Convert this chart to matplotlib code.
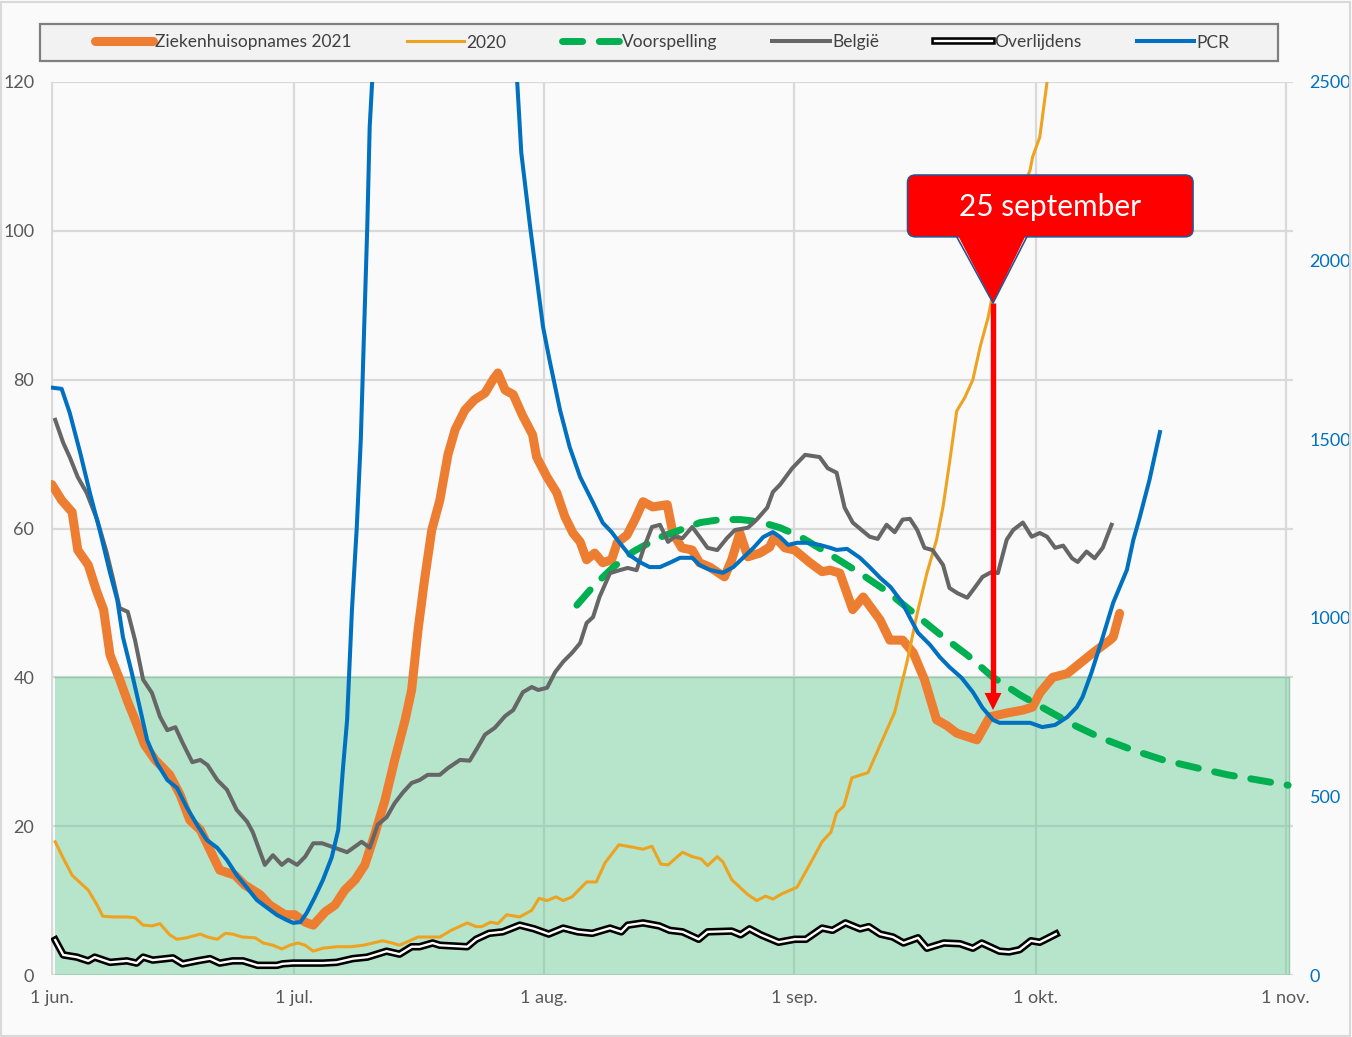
import matplotlib
matplotlib.use("Agg")
import matplotlib.pyplot as plt
from matplotlib.patches import FancyBboxPatch, Polygon, Rectangle
from matplotlib.legend_handler import HandlerTuple

plt.rcParams['font.family'] = ['Lato', 'DejaVu Sans']

# ---------------- data (x = days since 1 June 2021) ----------------
tick_days = [0, 30, 61, 92, 122, 153]
tick_labels = ["1 jun.", "1 jul.", "1 aug.", "1 sep.", "1 okt.", "1 nov."]

hosp_days = [0.0, 1.2, 2.5, 3.2, 4.5, 5.5, 6.4, 7.2, 8.4, 9.4, 10.3, 11.5, 12.8, 14.6, 15.9, 17.1, 18.4,
             19.6, 20.8, 22.7, 23.9, 25.8, 27.0, 28.9, 30.1, 31.4, 32.4, 33.9, 35.1, 36.3, 37.6, 38.8,
             40.0, 41.3, 42.5, 43.8, 44.6, 45.4, 46.2, 47.1, 48.1, 49.1, 50.0, 51.2, 52.4, 53.7, 54.7,
             55.3, 56.2, 57.2, 58.3, 59.6, 60.1, 61.4, 62.6, 63.6, 64.6, 65.5, 66.3, 67.3, 68.3, 69.4,
             70.1, 71.3, 72.3, 73.3, 74.5, 76.3, 77.0, 78.1, 79.4, 80.3, 81.6, 83.4, 84.3, 85.3, 86.3,
             87.8, 89.0, 89.6, 90.9, 92.1, 94.0, 95.5, 96.5, 97.7, 99.3, 100.6, 102.7, 103.9, 105.5,
             106.8, 108.2, 109.7, 111.0, 112.2, 114.7, 116.3, 118.4, 120.4, 121.6, 122.5, 124.1, 125.9,
             127.5, 129.1, 131.2, 131.6, 132.4]
hosp_2021 = [65.9, 63.8, 62.2, 57.1, 55.1, 51.7, 49.1, 43.0, 39.7, 36.7, 34.3, 30.9, 28.9, 26.9, 24.2,
             20.8, 19.5, 16.8, 14.1, 13.4, 12.1, 10.8, 9.4, 8.1, 8.1, 7.1, 6.7, 8.5, 9.4, 11.4, 12.8,
             14.8, 18.8, 23.5, 28.9, 34.3, 38.3, 46.4, 53.1, 59.8, 63.8, 69.9, 73.3, 75.9, 77.3, 78.2,
             80.0, 80.9, 78.6, 78.0, 75.3, 72.6, 69.6, 66.9, 64.8, 61.6, 59.4, 58.2, 55.8, 56.7, 55.4,
             55.8, 58.1, 59.1, 61.2, 63.6, 62.9, 63.2, 59.4, 57.4, 57.1, 55.4, 54.8, 53.5, 55.8, 59.4,
             56.2, 56.7, 57.5, 58.9, 57.4, 57.1, 55.4, 54.2, 54.4, 54.0, 49.1, 50.8, 47.7, 45.0, 45.0,
             43.3, 39.7, 34.3, 33.5, 32.5, 31.6, 34.7, 35.2, 35.6, 36.0, 37.9, 40.0, 40.5, 41.9, 43.3,
             45.0, 45.4, 48.6]

y2020_days = [0.4, 1.4, 2.5, 3.5, 4.5, 5.6, 6.3, 7.6, 9.3, 10.3, 11.3, 12.4, 13.4, 14.6, 15.5, 16.7,
              18.4, 19.3, 20.5, 21.5, 22.4, 23.6, 25.2, 26.2, 27.4, 28.5, 29.5, 30.5, 31.4, 32.4, 33.6,
              35.3, 37.0, 38.6, 41.0, 42.2, 43.1, 45.4, 47.2, 48.1, 49.5, 51.5, 52.6, 53.3, 54.4, 55.3,
              56.4, 58.0, 59.5, 60.4, 61.4, 62.5, 63.4, 64.5, 66.3, 67.5, 68.6, 70.3, 71.9, 73.3, 74.4,
              75.5, 76.4, 78.2, 79.4, 80.5, 81.3, 82.5, 83.2, 84.3, 86.3, 87.4, 88.5, 89.4, 90.5, 92.4,
              94.1, 95.5, 96.6, 97.3, 98.2, 99.2, 101.2, 102.7, 104.5, 106.0, 107.3, 108.5, 109.7, 110.5,
              111.3, 112.2, 113.2, 114.2, 115.1, 116.1, 116.7, 118.9, 120.0, 121.3, 121.6, 122.5, 122.9,
              123.4, 123.7]
y2020 = [17.9, 15.7, 13.4, 12.4, 11.4, 9.4, 7.9, 7.8, 7.8, 7.7, 6.7, 6.6, 6.9, 5.4, 4.8, 5.0, 5.5, 5.1,
         4.8, 5.6, 5.5, 5.1, 5.0, 4.3, 4.0, 3.5, 4.0, 4.3, 4.0, 3.2, 3.6, 3.8, 3.8, 4.0, 4.6, 4.3, 4.0,
         5.1, 5.1, 5.1, 6.0, 7.0, 6.5, 6.5, 7.1, 6.9, 8.1, 7.8, 8.7, 10.3, 10.0, 10.5, 10.0, 10.5, 12.5,
         12.5, 15.1, 17.5, 17.2, 16.9, 17.3, 14.9, 14.8, 16.5, 15.9, 15.6, 14.7, 15.9, 15.2, 12.8, 10.8,
         10.0, 10.6, 10.2, 10.9, 11.8, 15.1, 17.9, 19.2, 21.8, 22.7, 26.5, 27.2, 30.9, 35.3, 41.9, 48.6,
         54.0, 58.5, 62.9, 68.8, 75.8, 77.6, 80.0, 84.4, 88.4, 91.7, 100.0, 104.5, 108.2, 109.9, 112.6,
         115.9, 120.0, 124.0]

fc_days = [65.1, 67.1, 69.6, 72.1, 75.1, 77.9, 80.4, 82.9, 85.4, 87.8, 90.3, 92.8, 96.5, 100.2, 103.6,
           106.8, 110.2, 113.5, 116.7, 120.1, 123.4, 126.7, 130.0, 134.1, 137.8, 142.1, 145.8, 153.3]
forecast = [49.7, 52.2, 54.8, 56.9, 58.7, 59.8, 60.8, 61.2, 61.2, 60.9, 60.1, 58.9, 56.5, 54.0, 51.5,
            48.7, 45.7, 43.0, 40.0, 37.6, 35.6, 33.6, 31.9, 30.2, 28.9, 27.8, 26.9, 25.5]

be_days = [0.4, 1.4, 2.2, 3.2, 4.3, 5.6, 6.8, 7.6, 8.4, 9.4, 10.3, 11.3, 12.4, 13.4, 14.3, 15.3, 16.2,
           17.4, 18.4, 19.3, 20.5, 21.7, 22.9, 24.2, 24.9, 26.4, 27.4, 28.5, 29.3, 30.4, 31.4, 32.4,
           33.5, 34.8, 36.6, 38.4, 39.4, 40.4, 41.5, 42.5, 43.5, 44.6, 45.6, 46.6, 48.1, 49.1, 50.6,
           51.8, 52.8, 53.7, 54.9, 56.2, 57.2, 58.4, 59.5, 60.3, 61.4, 62.4, 63.4, 64.5, 65.5, 66.3,
           67.1, 67.9, 69.2, 70.4, 71.4, 72.5, 73.3, 74.4, 75.4, 76.4, 77.2, 78.2, 79.4, 80.3, 81.3,
           82.5, 83.7, 84.7, 86.3, 87.4, 88.7, 89.4, 90.3, 91.8, 93.4, 95.2, 96.2, 97.3, 98.3, 99.3,
           100.4, 101.4, 102.4, 103.5, 104.5, 105.5, 106.4, 107.3, 108.2, 109.2, 110.5, 111.3, 112.3,
           113.5, 114.4, 115.4, 116.6, 117.3, 118.4, 119.2, 120.4, 121.5, 122.5, 123.4, 124.4, 125.4,
           126.5, 127.2, 128.3, 129.3, 130.3, 131.4]
belgie = [74.6, 71.5, 69.6, 66.9, 64.8, 61.2, 56.7, 53.1, 49.3, 48.8, 45.0, 39.7, 37.9, 34.7, 32.9, 33.3,
          31.2, 28.6, 28.9, 28.2, 26.2, 24.9, 22.2, 20.6, 19.2, 14.8, 16.1, 14.8, 15.5, 14.8, 15.9, 17.7,
          17.7, 17.2, 16.5, 17.9, 17.1, 20.2, 21.2, 23.1, 24.5, 25.8, 26.2, 26.9, 26.9, 27.8, 28.9, 28.8,
          30.6, 32.3, 33.2, 34.8, 35.6, 38.0, 38.7, 38.3, 38.6, 40.7, 42.1, 43.3, 44.6, 47.3, 48.1, 50.8,
          54.0, 54.4, 54.7, 54.4, 57.1, 60.2, 60.5, 58.2, 58.9, 58.7, 60.2, 58.9, 57.4, 57.1, 58.7, 59.8,
          60.1, 61.2, 62.8, 64.9, 65.9, 68.1, 69.9, 69.6, 68.1, 67.5, 62.8, 60.8, 59.8, 58.9, 58.6, 60.5,
          59.5, 61.2, 61.3, 59.8, 57.4, 57.1, 55.1, 52.0, 51.3, 50.7, 52.0, 53.5, 54.2, 54.0, 58.5, 59.8,
          60.8, 58.9, 59.4, 58.9, 57.4, 57.7, 56.0, 55.5, 56.9, 56.0, 57.4, 60.5]

death_days = [0.4, 1.4, 3.1, 4.5, 5.3, 7.2, 9.3, 10.5, 11.3, 12.5, 15.0, 16.2, 18.0, 19.6, 20.8, 22.4,
              23.7, 25.5, 27.9, 28.6, 29.9, 31.6, 33.6, 35.3, 37.3, 39.1, 41.5, 43.1, 44.6, 45.6, 47.2,
              48.1, 51.5, 52.6, 54.2, 55.9, 58.0, 59.8, 61.6, 63.4, 65.2, 67.0, 69.2, 70.6, 71.4, 73.3,
              75.3, 76.6, 78.2, 80.2, 81.3, 84.3, 85.4, 86.5, 87.9, 90.1, 92.1, 93.5, 95.5, 96.8, 98.4,
              100.2, 101.3, 102.7, 104.3, 105.6, 107.4, 108.5, 110.6, 112.6, 114.2, 115.3, 117.5, 118.7,
              120.0, 121.4, 122.5, 124.5]
deaths = [4.7, 2.7, 2.4, 1.9, 2.4, 1.7, 1.9, 1.6, 2.4, 2.0, 2.3, 1.5, 1.9, 2.2, 1.6, 1.9, 1.9, 1.3, 1.3,
          1.5, 1.6, 1.6, 1.6, 1.7, 2.2, 2.4, 3.2, 2.8, 3.8, 3.8, 4.3, 4.0, 3.8, 4.8, 5.6, 5.8, 6.7, 6.2,
          5.5, 6.3, 5.8, 5.6, 6.3, 5.8, 6.7, 7.0, 6.6, 6.0, 5.8, 4.8, 5.8, 5.9, 5.4, 6.2, 5.4, 4.4, 4.8,
          4.8, 6.3, 6.0, 7.0, 6.2, 6.5, 5.5, 5.1, 4.3, 5.0, 3.6, 4.3, 4.2, 3.6, 4.3, 3.2, 3.1, 3.4, 4.6,
          4.4, 5.5]

pcr_days = [0.1, 1.2, 2.2, 3.5, 4.7, 6.0, 7.2, 8.1, 8.8, 9.9, 10.9, 11.8, 13.0, 14.3, 15.5, 16.7, 18.0,
            19.2, 20.5, 21.7, 22.9, 24.2, 25.4, 26.7, 27.9, 29.1, 29.9, 30.8, 31.6, 32.6, 33.6, 34.7,
            35.5, 36.1, 36.6, 37.2, 37.8, 38.3, 38.7, 39.1, 39.4, 39.7, 41.0, 44.0, 48.0, 52.0, 55.0,
            57.7, 58.2, 59.3, 60.9, 61.7, 63.0, 64.2, 65.5, 67.1, 68.3, 69.4, 70.4, 71.6, 72.9, 74.1,
            75.4, 76.6, 77.9, 79.4, 80.3, 81.6, 83.2, 84.5, 85.7, 87.0, 88.2, 89.4, 90.3, 91.3, 92.4,
            93.6, 95.2, 96.5, 97.3, 98.6, 100.2, 101.4, 102.7, 104.0, 105.4, 106.4, 107.4, 108.9, 110.1,
            111.3, 112.8, 114.2, 115.4, 116.7, 117.5, 121.3, 122.8, 124.4, 125.9, 127.1, 127.8, 128.9,
            130.2, 131.6, 133.3, 134.1, 134.9, 136.1, 137.4]
pcr = [1644, 1641, 1574, 1462, 1350, 1238, 1126, 1050, 946, 846, 748, 658, 594, 546, 524, 470, 420, 378,
       356, 322, 280, 244, 210, 188, 168, 154, 146, 148, 174, 218, 266, 330, 406, 582, 714, 1022, 1254,
       1500, 1800, 2094, 2374, 2498, 2950, 3350, 3450, 3250, 2900, 2498, 2302, 2094, 1814, 1722, 1582,
       1478, 1394, 1322, 1266, 1240, 1210, 1176, 1156, 1142, 1142, 1154, 1168, 1168, 1148, 1134, 1126,
       1142, 1168, 1196, 1226, 1240, 1226, 1204, 1210, 1210, 1204, 1196, 1190, 1193, 1168, 1142, 1112,
       1086, 1044, 1000, 958, 924, 890, 862, 832, 792, 748, 714, 706, 706, 694, 700, 722, 750, 778, 846,
       938, 1042, 1134, 1218, 1282, 1386, 1520]

threshold = 40
callout_day = 116.7
callout_text = "25 september"

series_labels = ["Ziekenhuisopnames 2021", "2020", "Voorspelling", "België", "Overlijdens", "PCR"]

# ---------------- styling ----------------
BG = '#FAFAFA'
GRID = '#D9D9D9'
C_ORANGE = '#ED7D31'
C_GOLD = '#EEA320'
C_GREEN = '#00B050'
C_GRAY = '#666666'
C_BLUE = '#0070C0'
TXT = '#595959'

W, H = 1352, 1037
fig = plt.figure(figsize=(W / 100, H / 100), dpi=100, facecolor=BG)
fig.patches.append(Rectangle((1 / W, 1 / H), 1 - 3 / W, 1 - 3 / H, transform=fig.transFigure,
                             fill=False, edgecolor='#D9D9D9', linewidth=1.5))

ax = fig.add_axes([51 / W, 1 - 975 / H, (1293 - 51) / W, (975 - 82) / H])
ax.set_facecolor(BG)
ax2 = ax.twinx()

ax.set_xlim(-0.12, 153.9)
ax.set_ylim(0, 120)
ax2.set_ylim(0, 2500)

ax.set_xticks(tick_days)
ax.set_xticklabels(tick_labels)
ax.set_yticks(range(0, 121, 20))
ax2.set_yticks(range(0, 2501, 500))

for a in (ax, ax2):
    for s in a.spines.values():
        s.set_visible(False)
ax.set_axisbelow(True)
ax.grid(True, color=GRID, linewidth=1.6)
ax.tick_params(axis='both', length=0, labelsize=13, labelcolor=TXT)
ax.tick_params(axis='y', pad=12)
ax.tick_params(axis='x', pad=11)
ax2.tick_params(axis='y', length=0, labelsize=13, labelcolor=C_BLUE, pad=12)

# shaded zone below threshold
ax.fill_between([0.4, 153.4], [0, 0], [threshold, threshold], color='#5AC88E', alpha=0.42,
                linewidth=0, zorder=1)
ax.plot([0.4, 153.4, 153.4], [threshold, threshold, 0], color='#8FCBA8', linewidth=1.0, zorder=1.1)

# series
l_hosp, = ax.plot(hosp_days, hosp_2021, color=C_ORANGE, linewidth=6.5, solid_joinstyle='round',
                  solid_capstyle='round', zorder=3)
l_2020, = ax.plot(y2020_days, y2020, color=C_GOLD, linewidth=2.2, zorder=3.1)
l_fc, = ax.plot(fc_days, forecast, color=C_GREEN, linewidth=5, dashes=(2.9, 2.4),
                dash_capstyle='round', zorder=3.2)
l_be, = ax.plot(be_days, belgie, color=C_GRAY, linewidth=2.9, zorder=3.3)
l_d1, = ax.plot(death_days, deaths, color='black', linewidth=5.4, zorder=3.4)
l_d2, = ax.plot(death_days, deaths, color='white', linewidth=1.7, zorder=3.5)
l_pcr, = ax2.plot(pcr_days, pcr, color=C_BLUE, linewidth=2.9, zorder=3)

# callout "25 september" with arrow (drawn on top axis, left-axis data coordinates)
T = ax.transData
EDGE = '#2F528F'
box = FancyBboxPatch((106.1, 99.2), 35.4, 8.3, boxstyle='round,pad=0,rounding_size=1.0',
                     facecolor='#FF0000', edgecolor=EDGE, linewidth=1.2, transform=T, zorder=10,
                     clip_on=False)
ax2.add_patch(box)
ax2.add_patch(Polygon([(112.2, 99.7), (120.9, 99.7), (callout_day, 90.3)], closed=True,
                      facecolor='#FF0000', edgecolor='none', transform=T, zorder=10.1))
ax2.plot([112.2, callout_day, 120.9], [99.2, 90.3, 99.2], color=EDGE, linewidth=1.2,
         transform=T, zorder=10.2)
ax2.text(123.8, 103.2, callout_text, transform=T, color='white', fontsize=21.5,
         ha='center', va='center', zorder=11)
ax2.plot([callout_day, callout_day], [90.3, 37.8], color='#FF0000', linewidth=3.9, transform=T,
         zorder=9, solid_capstyle='butt')
ax2.add_patch(Polygon([(callout_day - 1.05, 37.9), (callout_day + 1.05, 37.9), (callout_day, 35.6)],
                      closed=True, facecolor='#FF0000', edgecolor='none', transform=T, zorder=9))

# legend: frame drawn separately, entries spread evenly inside
fig.patches.append(Rectangle((40 / W, 1 - 61 / H), 1238 / W, 37 / H, transform=fig.transFigure,
                             facecolor='#F2F2F2', edgecolor='#7F7F7F', linewidth=1.6, zorder=0))
handles = [l_hosp, l_2020, l_fc, l_be, (l_d1, l_d2), l_pcr]
leg = fig.legend(handles, series_labels, loc='center', ncol=6, mode='expand',
                 bbox_to_anchor=(90 / W, 1 - 61 / H, 1145 / W, 37 / H),
                 handler_map={tuple: HandlerTuple(ndivide=1)},
                 fontsize=12.5, handlelength=3.3, handletextpad=0.15, borderpad=0.3,
                 borderaxespad=0, frameon=False, labelcolor='#404040')

fig.savefig('out.png', dpi=100, facecolor=BG)
